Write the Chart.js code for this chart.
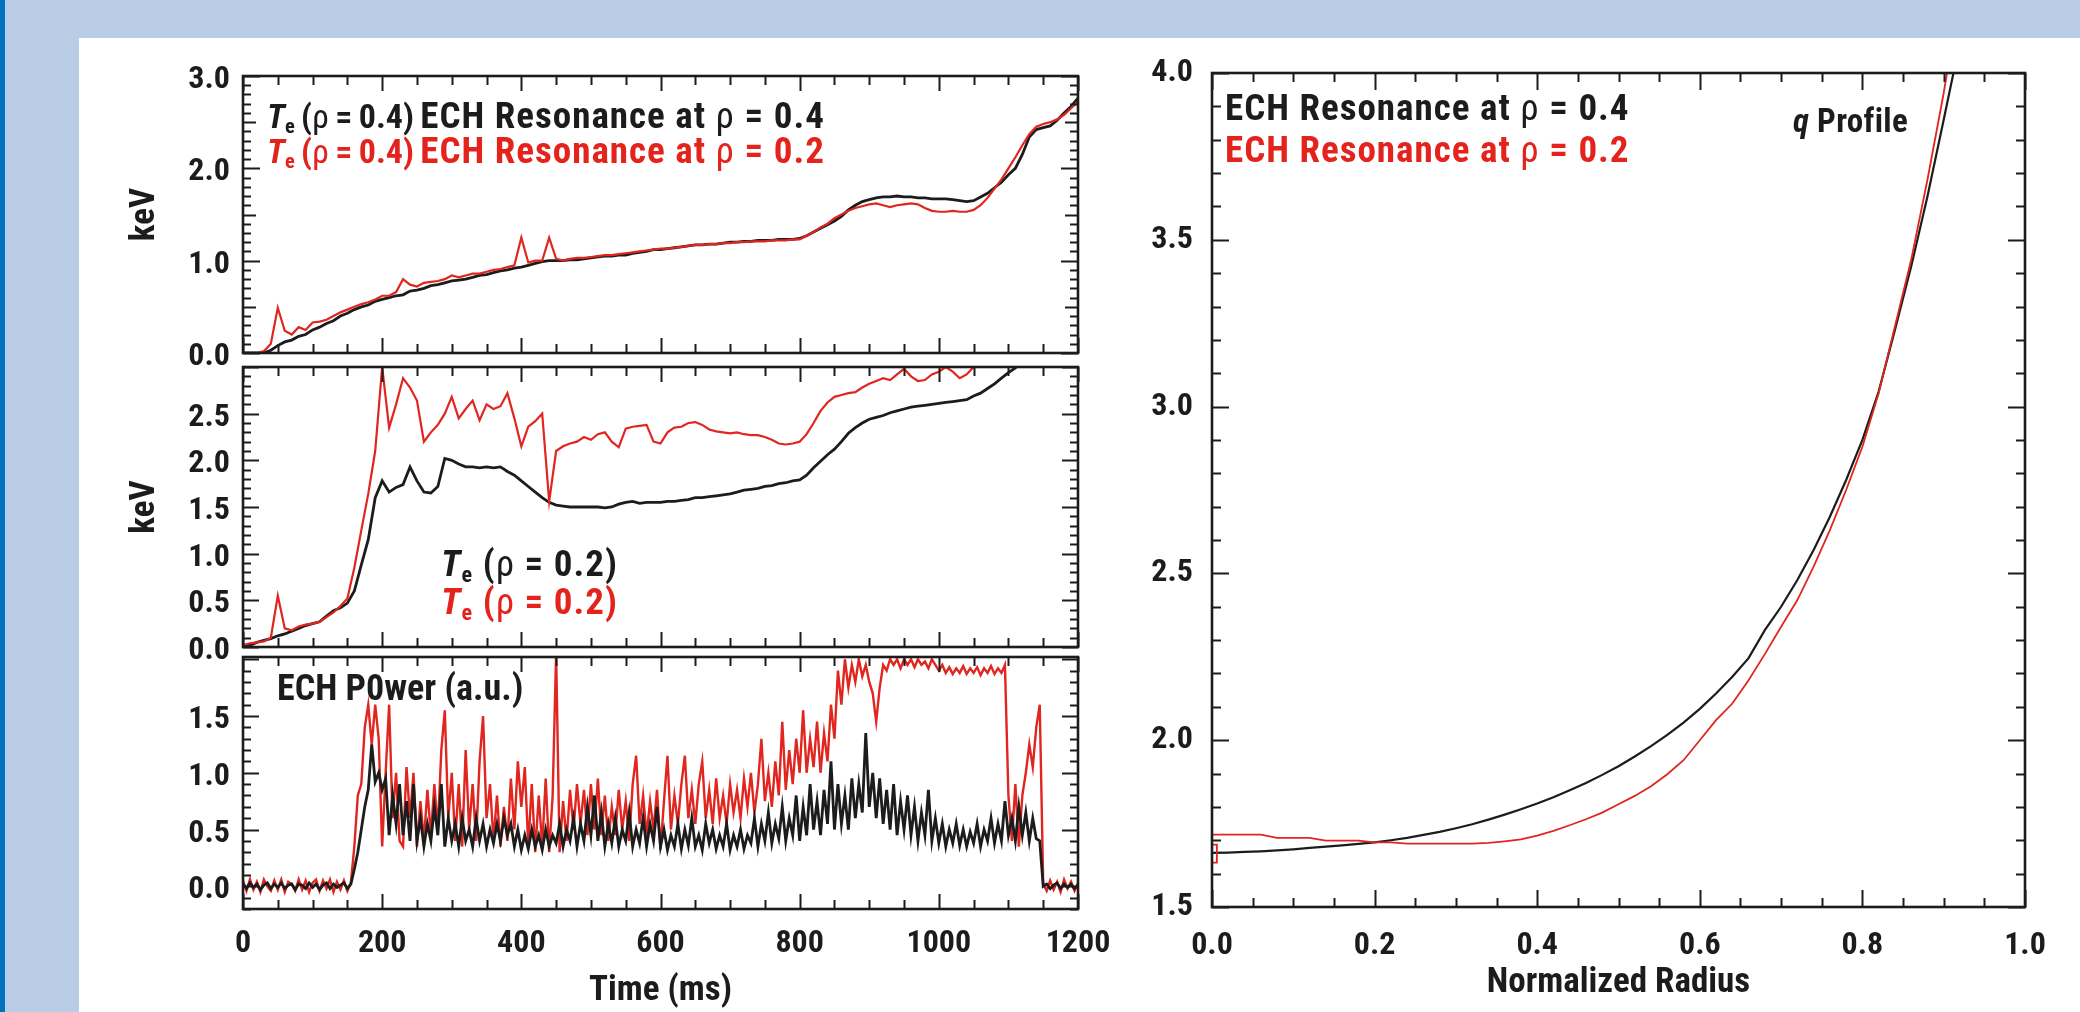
<!DOCTYPE html>
<html><head><meta charset="utf-8">
<script src="https://cdn.jsdelivr.net/npm/chart.js@4.4.1/dist/chart.umd.min.js"></script>
<style>
html,body{margin:0;padding:0;}
body{width:2080px;height:1012px;background:#b8cce6;position:relative;overflow:hidden;font-family:"Roboto Condensed","Liberation Sans",Arial,sans-serif;}
#stripe{position:absolute;left:0;top:0;width:5px;height:1012px;background:#0071bf;}
#sheet{position:absolute;left:79px;top:38px;width:2001px;height:974px;background:#fff;}
canvas{position:absolute;}
.ann{position:absolute;font-weight:bold;font-size:37px;line-height:1;white-space:nowrap;letter-spacing:1px;}
.ann sub{font-size:0.6em;vertical-align:-0.25em;line-height:0;}
.ann .g{font-weight:normal;}
.ann .pre{letter-spacing:0;word-spacing:-1.5px;font-size:34px;}
.blk{color:#1c1c1c}.red{color:#e3231c}
</style></head>
<body>
<div id="stripe"></div>
<div id="sheet"></div>
<canvas id="c1" width="1040" height="320" style="left:100px;top:50px"></canvas>
<canvas id="c2" width="1040" height="320" style="left:100px;top:345px"></canvas>
<canvas id="c3" width="1040" height="372" style="left:100px;top:640px"></canvas>
<canvas id="c4" width="980" height="972" style="left:1080px;top:40px"></canvas>

<div class="ann blk" style="left:267px;top:97px"><span class="pre"><i>T</i><sub>e</sub> (<span class="g">ρ</span> = 0.4) </span>ECH Resonance at <span class="g">ρ</span> = 0.4</div>
<div class="ann red" style="left:267px;top:132px"><span class="pre"><i>T</i><sub>e</sub> (<span class="g">ρ</span> = 0.4) </span>ECH Resonance at <span class="g">ρ</span> = 0.2</div>
<div class="ann blk" style="left:441px;top:545px"><i>T</i><sub>e</sub> (<span class="g">ρ</span> = 0.2)</div>
<div class="ann red" style="left:441px;top:583px"><i>T</i><sub>e</sub> (<span class="g">ρ</span> = 0.2)</div>
<div class="ann blk" style="left:277px;top:670px;font-size:36px;letter-spacing:0">ECH P0wer (a.u.)</div>
<div class="ann blk" style="left:1225px;top:89px">ECH Resonance at <span class="g">ρ</span> = 0.4</div>
<div class="ann red" style="left:1225px;top:131px">ECH Resonance at <span class="g">ρ</span> = 0.2</div>
<div class="ann blk" style="left:1793px;top:104px;font-size:33px;letter-spacing:0.3px"><i>q</i> Profile</div>

<script>
// ---------- data ----------
const timeCoarse = [
  0,10,20,30,40,50,60,70,80,90,
  100,110,120,130,140,150,160,170,180,190,
  200,210,220,230,240,250,260,270,280,290,
  300,310,320,330,340,350,360,370,380,390,
  400,410,420,430,440,450,460,470,480,490,
  500,510,520,530,540,550,560,570,580,590,
  600,610,620,630,640,650,660,670,680,690,
  700,710,720,730,740,750,760,770,780,790,
  800,810,820,830,840,850,860,870,880,890,
  900,910,920,930,940,950,960,970,980,990,
  1000,1010,1020,1030,1040,1050,1060,1070,1080,1090,
  1100,1110,1120,1130,1140,1150,1160,1170,1180,1190,
  1200];

// Panel 1: Te(rho=0.4)
const te04_res04 = [
  0,0,0,0,0.03,0.08,0.12,0.14,0.18,0.2,
  0.25,0.28,0.32,0.35,0.4,0.43,0.47,0.5,0.52,0.56,
  0.58,0.6,0.62,0.63,0.67,0.68,0.7,0.73,0.74,0.76,
  0.78,0.79,0.8,0.82,0.84,0.85,0.87,0.89,0.9,0.92,
  0.93,0.95,0.97,0.99,1.0,1.0,1.0,1.01,1.01,1.02,
  1.03,1.04,1.05,1.05,1.06,1.06,1.08,1.09,1.1,1.12,
  1.12,1.13,1.14,1.15,1.16,1.17,1.17,1.18,1.18,1.19,
  1.2,1.2,1.21,1.21,1.22,1.22,1.22,1.23,1.23,1.23,
  1.24,1.27,1.31,1.35,1.39,1.43,1.48,1.55,1.6,1.64,
  1.66,1.68,1.69,1.69,1.7,1.69,1.69,1.68,1.68,1.67,
  1.67,1.67,1.66,1.65,1.64,1.65,1.69,1.73,1.79,1.85,
  1.93,2.0,2.15,2.34,2.42,2.44,2.46,2.52,2.6,2.67,
  2.76];
const te04_res02 = [
  0,0,0,0.02,0.1,0.49,0.24,0.2,0.28,0.25,
  0.33,0.34,0.36,0.4,0.44,0.47,0.5,0.53,0.55,0.58,
  0.62,0.62,0.66,0.8,0.74,0.72,0.76,0.77,0.78,0.8,
  0.84,0.82,0.84,0.86,0.86,0.88,0.9,0.91,0.93,0.95,
  1.25,0.98,1.0,1.0,1.25,1.02,1.0,1.02,1.03,1.03,
  1.04,1.05,1.06,1.06,1.07,1.08,1.09,1.1,1.11,1.12,
  1.13,1.13,1.14,1.15,1.16,1.17,1.17,1.18,1.18,1.19,
  1.19,1.2,1.2,1.21,1.21,1.21,1.22,1.22,1.22,1.23,
  1.23,1.27,1.31,1.36,1.4,1.46,1.5,1.54,1.57,1.59,
  1.61,1.62,1.6,1.58,1.6,1.61,1.62,1.61,1.57,1.54,
  1.53,1.53,1.54,1.53,1.53,1.55,1.6,1.68,1.78,1.88,
  2.0,2.12,2.25,2.37,2.45,2.48,2.5,2.53,2.58,2.65,
  2.72];

// Panel 2: Te(rho=0.2)
const te02_res04 = [
  0,0.02,0.05,0.07,0.09,0.12,0.14,0.17,0.2,0.23,
  0.25,0.27,0.33,0.39,0.42,0.47,0.6,0.88,1.15,1.6,
  1.78,1.66,1.71,1.74,1.93,1.78,1.66,1.65,1.72,2.02,
  2.0,1.96,1.93,1.93,1.92,1.93,1.92,1.93,1.88,1.84,
  1.78,1.72,1.66,1.6,1.55,1.52,1.51,1.5,1.5,1.5,
  1.5,1.5,1.49,1.5,1.53,1.55,1.56,1.54,1.55,1.55,
  1.55,1.56,1.56,1.57,1.58,1.6,1.6,1.61,1.62,1.63,
  1.64,1.66,1.68,1.69,1.7,1.72,1.73,1.75,1.76,1.78,
  1.79,1.84,1.92,1.99,2.06,2.12,2.2,2.29,2.35,2.4,
  2.44,2.46,2.48,2.51,2.53,2.55,2.57,2.58,2.59,2.6,
  2.61,2.62,2.63,2.64,2.65,2.69,2.72,2.77,2.82,2.88,
  2.94,2.99,3.06,null,null,null,null,null,null,null,
  null];
const te02_res02 = [
  0.02,0.04,0.05,0.06,0.1,0.55,0.2,0.18,0.22,0.24,
  0.25,0.27,0.32,0.37,0.44,0.52,0.85,1.25,1.64,2.1,
  3.0,2.35,2.6,2.88,2.78,2.64,2.2,2.3,2.38,2.5,
  2.68,2.45,2.55,2.64,2.43,2.6,2.55,2.58,2.72,2.45,
  2.15,2.36,2.42,2.5,1.56,2.1,2.15,2.18,2.2,2.25,
  2.22,2.28,2.3,2.2,2.14,2.34,2.36,2.37,2.38,2.2,
  2.18,2.3,2.35,2.36,2.4,2.41,2.38,2.33,2.31,2.3,
  2.29,2.3,2.28,2.27,2.27,2.25,2.22,2.18,2.17,2.18,
  2.2,2.28,2.4,2.53,2.62,2.68,2.7,2.72,2.73,2.78,
  2.82,2.85,2.88,2.86,2.92,2.98,2.9,2.85,2.86,2.92,
  2.95,3.0,2.95,2.88,2.92,3.0,null,null,null,null,
  null,null,null,null,null,null,null,null,null,null,
  null];

// Panel 3: ECH power
const timeFine = [
  0,5,10,15,20,25,30,35,40,45,50,55,60,65,70,75,80,85,90,95,
  100,105,110,115,120,125,130,135,140,145,150,155,160,165,170,175,180,185,190,195,
  200,205,210,215,220,225,230,235,240,245,250,255,260,265,270,275,280,285,290,295,
  300,305,310,315,320,325,330,335,340,345,350,355,360,365,370,375,380,385,390,395,
  400,405,410,415,420,425,430,435,440,445,450,455,460,465,470,475,480,485,490,495,
  500,505,510,515,520,525,530,535,540,545,550,555,560,565,570,575,580,585,590,595,
  600,605,610,615,620,625,630,635,640,645,650,655,660,665,670,675,680,685,690,695,
  700,705,710,715,720,725,730,735,740,745,750,755,760,765,770,775,780,785,790,795,
  800,805,810,815,820,825,830,835,840,845,850,855,860,865,870,875,880,885,890,895,
  900,905,910,915,920,925,930,935,940,945,950,955,960,965,970,975,980,985,990,995,
  1000,1005,1010,1015,1020,1025,1030,1035,1040,1045,1050,1055,1060,1065,1070,1075,1080,1085,1090,1095,
  1100,1105,1110,1115,1120,1125,1130,1135,1140,1145,1150,1155,1160,1165,1170,1175,1180,1185,1190,1195,
  1200];
const echPower_res04 = [
  0.02,-0.02,0.03,-0.01,0.02,-0.03,0.01,0.03,-0.02,0.02,-0.01,0.03,-0.02,0.01,0.02,-0.03,0.02,0.01,-0.02,0.03,
  -0.01,0.02,-0.03,0.01,0.03,-0.02,0.02,-0.01,0.01,0.03,-0.02,0.02,0.15,0.3,0.5,0.7,0.85,1.25,0.92,1.0,
  0.85,0.95,0.45,0.8,0.55,0.9,0.45,0.75,0.4,0.9,0.4,0.6,0.35,0.55,0.4,0.7,0.45,0.9,0.35,0.6,
  0.4,0.55,0.35,0.6,0.4,0.5,0.35,0.6,0.4,0.55,0.35,0.5,0.38,0.55,0.4,0.6,0.45,0.55,0.35,0.5,
  0.32,0.45,0.33,0.5,0.35,0.45,0.32,0.5,0.35,0.45,0.38,0.55,0.35,0.5,0.4,0.6,0.35,0.55,0.4,0.7,
  0.45,0.8,0.4,0.65,0.35,0.55,0.38,0.6,0.35,0.5,0.4,0.65,0.35,0.5,0.38,0.6,0.35,0.55,0.4,0.7,
  0.35,0.5,0.32,0.45,0.35,0.55,0.33,0.5,0.36,0.6,0.35,0.45,0.32,0.55,0.38,0.5,0.33,0.45,0.35,0.55,
  0.32,0.45,0.35,0.5,0.33,0.45,0.38,0.6,0.35,0.55,0.4,0.65,0.38,0.55,0.42,0.7,0.4,0.6,0.45,0.8,
  0.4,0.7,0.45,0.9,0.5,0.75,0.45,0.85,0.55,1.1,0.5,0.9,0.55,0.8,0.5,0.95,0.6,0.9,0.65,1.35,
  0.7,1.0,0.6,0.95,0.55,0.85,0.5,0.9,0.45,0.75,0.5,0.8,0.45,0.7,0.4,0.65,0.45,0.85,0.4,0.6,
  0.38,0.55,0.35,0.5,0.38,0.55,0.36,0.5,0.35,0.48,0.38,0.55,0.35,0.5,0.4,0.6,0.38,0.55,0.4,0.75,
  0.45,0.6,0.4,0.7,0.45,0.65,0.4,0.6,0.42,0.4,0.0,0.02,-0.02,0.01,0.03,-0.02,0.02,-0.01,0.02,-0.02,
  0.01];
const echPower_res02 = [
  0.05,-0.04,0.06,-0.03,0.04,-0.05,0.06,0.0,-0.04,0.05,-0.03,0.06,-0.05,0.04,0.02,-0.04,0.06,-0.03,0.05,-0.05,
  0.03,0.06,-0.04,0.05,-0.02,0.06,-0.05,0.04,-0.03,0.05,-0.04,0.03,0.35,0.8,0.9,1.4,1.6,1.25,1.6,1.3,
  0.35,1.0,1.6,0.6,1.0,0.4,0.35,1.05,0.6,1.0,0.35,0.75,0.4,0.85,0.45,0.9,0.5,1.2,1.55,0.6,
  1.0,0.4,0.9,0.35,1.2,0.5,0.9,0.4,1.1,1.5,0.6,0.9,0.4,0.8,0.35,0.7,0.4,0.95,0.5,1.1,
  0.7,1.05,0.35,0.9,0.3,0.8,0.35,0.95,0.3,0.8,2.05,0.3,0.75,0.4,0.85,0.5,0.9,0.55,0.85,0.45,
  0.9,0.5,0.95,0.45,0.8,0.4,0.7,0.45,0.85,0.5,0.75,0.4,0.9,1.15,0.55,0.8,0.45,0.75,0.5,0.85,
  0.32,0.75,1.15,0.5,0.8,0.55,0.9,1.15,0.6,0.85,0.55,0.9,1.1,0.6,0.85,0.55,0.95,0.6,0.8,0.55,
  0.9,0.65,0.85,0.6,0.95,0.7,1.0,0.65,0.9,1.3,0.75,1.0,0.7,1.1,0.8,1.45,0.85,1.2,0.9,1.3,
  1.0,1.55,1.0,1.3,1.05,1.45,1.0,1.35,1.1,1.6,1.3,1.9,1.6,2.0,1.75,1.95,1.8,2.0,1.85,1.95,
  1.8,1.7,1.45,1.75,1.95,1.9,2.0,1.95,2.0,1.92,2.0,1.95,2.0,1.93,2.0,1.95,1.98,1.92,2.0,1.95,
  1.9,1.95,1.88,1.93,1.87,1.92,1.88,1.94,1.87,1.92,1.88,1.93,1.86,1.92,1.88,1.94,1.87,1.92,1.88,1.95,
  0.8,0.4,0.9,0.35,0.8,1.0,1.25,1.05,1.4,1.6,0.02,-0.04,0.05,-0.03,0.04,-0.05,0.06,-0.02,0.04,-0.04,
  0.03];

// Right panel: q profile
const qRadius_res04 = [0,0.02,0.04,0.06,0.08,0.10,0.12,0.14,0.16,0.18,
  0.20,0.22,0.24,0.26,0.28,0.30,0.32,0.34,0.36,0.38,
  0.40,0.42,0.44,0.46,0.48,0.50,0.52,0.54,0.56,0.58,
  0.60,0.62,0.64,0.66,0.68,0.70,0.72,0.74,0.76,0.78,
  0.80,0.82,0.84,0.86,0.88,0.90,0.912];
const q_res04 = [1.662,1.663,1.665,1.667,1.670,1.673,1.677,1.681,1.685,1.689,
  1.694,1.700,1.707,1.716,1.725,1.736,1.748,1.762,1.777,1.793,
  1.810,1.829,1.850,1.872,1.896,1.922,1.951,1.982,2.016,2.053,
  2.094,2.140,2.190,2.246,2.330,2.400,2.480,2.570,2.670,2.780,
  2.900,3.045,3.230,3.420,3.630,3.860,4.0];
const qRadius_res02 = [0,0,0.006,0.006,0,0,
  0.02,0.04,0.06,0.08,0.10,0.12,0.14,0.16,0.18,
  0.20,0.22,0.24,0.26,0.28,0.30,0.32,0.34,0.36,0.38,
  0.40,0.42,0.44,0.46,0.48,0.50,0.52,0.54,0.56,0.58,
  0.60,0.62,0.64,0.66,0.68,0.70,0.72,0.74,0.76,0.78,
  0.80,0.82,0.84,0.86,0.88,0.90,0.904];
const q_res02 = [1.687,1.633,1.633,1.687,1.687,1.717,
  1.717,1.717,1.717,1.707,1.707,1.707,1.699,1.699,1.699,
  1.694,1.694,1.69,1.69,1.69,1.69,1.69,1.692,1.697,1.703,
  1.714,1.728,1.745,1.763,1.783,1.808,1.833,1.862,1.898,1.94,
  2.0,2.06,2.11,2.18,2.258,2.34,2.42,2.52,2.63,2.75,
  2.88,3.04,3.24,3.44,3.68,3.94,4.0];

// tick labels
const timeTicks = [0,200,400,600,800,1000,1200];
const p1Ticks = [0,1,2,3];
const p2Ticks = [0,0.5,1,1.5,2,2.5];
const p3Ticks = [0,0.5,1,1.5];
const qTicks = [1.5,2,2.5,3,3.5,4];
const radiusTicks = [0,0.2,0.4,0.6,0.8,1.0];

// ---------- styling ----------
const INK = '#1c1c1c', RED = '#e0261f';
const FONT = '"Roboto Condensed", "Liberation Sans", Arial, sans-serif';
const tickFont = {family: FONT, size: 32, weight: 'bold'};
const titleFont = {family: FONT, size: 35, weight: 'bold'};

const frameTicks = {
  id: 'frameTicks',
  afterDatasetsDraw(chart, args, opts) {
    const {ctx, chartArea: a} = chart;
    ctx.save();
    ctx.strokeStyle = INK;
    ctx.lineWidth = 2;
    ['x', 'y'].forEach(id => {
      const sc = chart.scales[id], spec = opts[id];
      const k0 = Math.ceil(sc.min / spec.step - 1e-6), k1 = Math.floor(sc.max / spec.step + 1e-6);
      for (let k = k0; k <= k1; k++) {
        const v = k * spec.step;
        let len = spec.lens[spec.lens.length - 1][1];
        for (const [every, l] of spec.lens) {
          const r = v / every;
          if (Math.abs(r - Math.round(r)) < 1e-6) { len = l; break; }
        }
        const p = Math.round(sc.getPixelForValue(v)) + 0.5;
        ctx.beginPath();
        if (id === 'x') {
          ctx.moveTo(p, a.bottom); ctx.lineTo(p, a.bottom - len);
          ctx.moveTo(p, a.top); ctx.lineTo(p, a.top + len);
        } else {
          ctx.moveTo(a.left, p); ctx.lineTo(a.left + len, p);
          ctx.moveTo(a.right, p); ctx.lineTo(a.right - len, p);
        }
        ctx.stroke();
      }
    });
    ctx.lineWidth = 2.6;
    ctx.strokeRect(a.left, a.top, a.right - a.left, a.bottom - a.top);
    ctx.restore();
  }
};
Chart.register(frameTicks);

function series(xs, ys) { return ys.map((y, i) => ({x: xs[i], y})); }
function noPad(s) { s.paddingLeft = 0; s.paddingRight = 0; s.paddingTop = 0; s.paddingBottom = 0; }

function yAxis(min, max, ticks, width, title, titlePad, labelOffset, pad) {
  return {
    type: 'linear', min, max,
    afterBuildTicks: s => { s.ticks = ticks.map(v => ({value: v})); },
    afterFit: s => { s.width = width; noPad(s); },
    grid: {display: false, drawTicks: false},
    border: {display: false},
    ticks: {color: INK, font: tickFont, padding: pad, labelOffset, callback: v => Number(v).toFixed(1)},
    title: title ? {display: true, text: title, color: INK, font: titleFont, padding: {top: titlePad, bottom: 0}} : {display: false}
  };
}

function xAxis(min, max, ticks, height, title, labelPad, titlePad, fmt) {
  return {
    type: 'linear', min, max,
    afterBuildTicks: s => { s.ticks = ticks.map(v => ({value: v})); },
    afterFit: s => { s.height = height; noPad(s); },
    grid: {display: false, drawTicks: false}, border: {display: false},
    ticks: {color: INK, font: tickFont, padding: labelPad, maxRotation: 0, autoSkip: false, callback: fmt},
    title: {display: true, text: title, color: INK, font: titleFont, padding: {top: 0, bottom: titlePad}}
  };
}

function baseOptions(padding, scales, tickSpec) {
  return {
    responsive: false, animation: false, devicePixelRatio: 1, events: [],
    layout: {padding},
    plugins: {legend: {display: false}, tooltip: {enabled: false}, frameTicks: tickSpec},
    elements: {point: {radius: 0}, line: {tension: 0}},
    scales
  };
}

const leftTickSpecX = {step: 50, lens: [[200, 15], [50, 9]]};

// Panel 1
new Chart(document.getElementById('c1'), {
  type: 'line',
  data: {labels: timeCoarse, datasets: [
    {data: te04_res02, borderColor: RED, borderWidth: 2.2},
    {data: te04_res04, borderColor: INK, borderWidth: 2.8}
  ]},
  options: baseOptions({top: 26, right: 62, bottom: 17, left: 0}, {
    x: {type: 'linear', min: 0, max: 1200, display: false},
    y: yAxis(0, 3, p1Ticks, 143, 'keV', 24, 4, 13)
  }, {x: leftTickSpecX, y: {step: 0.1, lens: [[1, 17], [0.5, 13], [0.1, 8]]}})
});

// Panel 2
new Chart(document.getElementById('c2'), {
  type: 'line',
  data: {labels: timeCoarse, datasets: [
    {data: te02_res02, borderColor: RED, borderWidth: 2.2},
    {data: te02_res04, borderColor: INK, borderWidth: 2.8}
  ]},
  options: baseOptions({top: 22, right: 62, bottom: 18, left: 0}, {
    x: {type: 'linear', min: 0, max: 1200, display: false},
    y: yAxis(0, 3, p2Ticks, 143, 'keV', 24, 4, 13)
  }, {x: leftTickSpecX, y: {step: 0.1, lens: [[0.5, 16], [0.1, 8]]}})
});

// Panel 3
new Chart(document.getElementById('c3'), {
  type: 'line',
  data: {labels: timeFine, datasets: [
    {data: echPower_res04, borderColor: INK, borderWidth: 2.8},
    {data: echPower_res02, borderColor: RED, borderWidth: 2.4}
  ]},
  options: baseOptions({top: 17, right: 62, bottom: 0, left: 0}, {
    x: xAxis(0, 1200, timeTicks, 103, 'Time (ms)', 16, 0, v => String(v)),
    y: yAxis(-0.2, 2.02, p3Ticks, 143, null, 0, 4, 13)
  }, {x: leftTickSpecX, y: {step: 0.1, lens: [[0.5, 16], [0.1, 8]]}})
});

// Right panel: q profile
new Chart(document.getElementById('c4'), {
  type: 'scatter',
  data: {datasets: [
    {data: series(qRadius_res02, q_res02), borderColor: RED, borderWidth: 1.8, showLine: true},
    {data: series(qRadius_res04, q_res04), borderColor: INK, borderWidth: 2.2, showLine: true}
  ]},
  options: baseOptions({top: 33, right: 35, bottom: 0, left: 0}, {
    x: xAxis(0, 1, radiusTicks, 105, 'Normalized Radius', 20, 8, v => Number(v).toFixed(1)),
    y: yAxis(1.5, 4.0, qTicks, 132, null, 0, 0, 19)
  }, {x: {step: 0.05, lens: [[0.2, 17], [0.05, 9]]}, y: {step: 0.1, lens: [[0.5, 17], [0.1, 9]]}})
});
</script>
</body></html>
